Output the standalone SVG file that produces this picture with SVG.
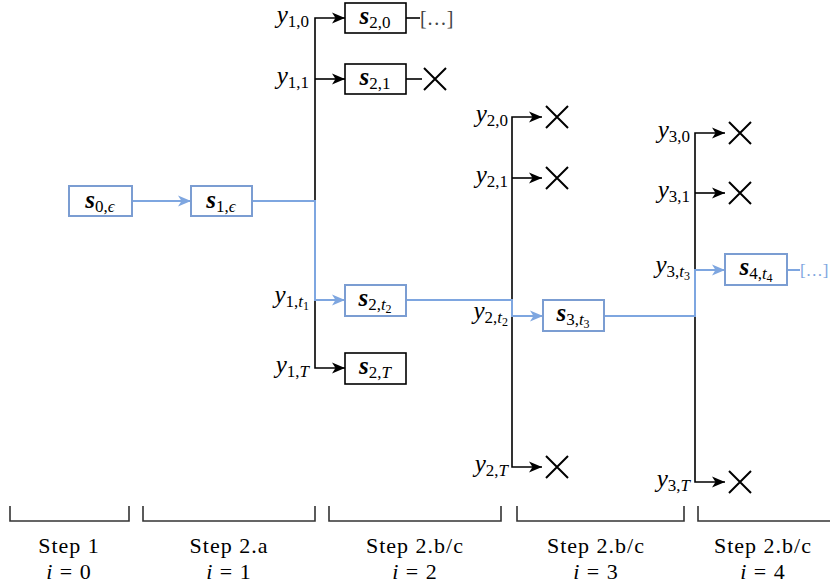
<svg xmlns="http://www.w3.org/2000/svg" width="830" height="588" viewBox="0 0 830 588" font-family="'Times New Roman', 'Liberation Serif', 'DejaVu Serif', 'Noto Serif', serif">
<defs>
<marker id="ak" markerUnits="userSpaceOnUse" markerWidth="14" markerHeight="12" refX="13" refY="6" orient="auto"><path d="M0,0.5 L13,6 L0,11.5 L3.5,6 Z" fill="#000"/></marker>
<marker id="ab" markerUnits="userSpaceOnUse" markerWidth="14" markerHeight="12" refX="13" refY="6" orient="auto"><path d="M0,0.5 L13,6 L0,11.5 L3.5,6 Z" fill="#7EA6E0"/></marker>
<style>
text{font-family:'Times New Roman','Liberation Serif','DejaVu Serif','Noto Serif',serif;fill:#000}
.m{font-size:25px}
.i{font-style:italic}
.b{font-style:italic;font-weight:bold}
.sub{font-size:17px}
.sub2{font-size:12px}
.st{font-size:22px;letter-spacing:1px}
.bx{fill:#fff;stroke:#000;stroke-width:1.6}
.bb{fill:#fff;stroke:#7B9DD2;stroke-width:2}
.lk{fill:none;stroke:#000;stroke-width:1.6}
.lb{fill:none;stroke:#7EA6E0;stroke-width:2}
.x{stroke:#000;stroke-width:2}
.br{fill:none;stroke:#333;stroke-width:1.6}
</style>
</defs>
<g id="connectors">
<path class="lb" d="M132,201 H191" marker-end="url(#ab)"/>
<path class="lk" d="M315,201 V18 H345" marker-end="url(#ak)"/>
<path class="lk" d="M315,79 H345" marker-end="url(#ak)"/>
<path class="lk" d="M315,300 V368 H345" marker-end="url(#ak)"/>
<path class="lb" d="M252,201 H315 V300 H345" marker-end="url(#ab)"/>
<path class="lk" d="M512,300 V117 H542" marker-end="url(#ak)"/>
<path class="lk" d="M512,178 H542" marker-end="url(#ak)"/>
<path class="lk" d="M512,316 V467 H542" marker-end="url(#ak)"/>
<path class="lb" d="M406,300 H512 V316 H543" marker-end="url(#ab)"/>
<path class="lk" d="M695,270 V133 H725" marker-end="url(#ak)"/>
<path class="lk" d="M695,193 H725" marker-end="url(#ak)"/>
<path class="lk" d="M695,316 V482 H725" marker-end="url(#ak)"/>
<path class="lb" d="M604,316 H695 V270 H725" marker-end="url(#ab)"/>
<path class="lk" d="M406,18 H420"/>
<path class="lk" d="M406,79 H422"/>
<path class="lb" d="M787,270 H800"/>
</g>
<g id="s0e"><rect class="bb" x="69" y="186" width="63" height="30"/><text class="m" x="100" y="208" text-anchor="middle"><tspan class="b">s</tspan><tspan class="sub" dy="4">0,</tspan><tspan class="sub i">ϵ</tspan></text></g>
<g id="s1e"><rect class="bb" x="191" y="186" width="61" height="30"/><text class="m" x="221" y="208" text-anchor="middle"><tspan class="b">s</tspan><tspan class="sub" dy="4">1,</tspan><tspan class="sub i">ϵ</tspan></text></g>
<g id="s20"><rect class="bx" x="345" y="3" width="61" height="30"/><text class="m" x="375" y="24" text-anchor="middle"><tspan class="b">s</tspan><tspan class="sub" dy="4">2,0</tspan></text></g>
<g id="s21"><rect class="bx" x="345" y="64" width="61" height="30"/><text class="m" x="375" y="85" text-anchor="middle"><tspan class="b">s</tspan><tspan class="sub" dy="4">2,1</tspan></text></g>
<g id="s2t2"><rect class="bb" x="345" y="285" width="61" height="31"/><text class="m" x="375" y="306" text-anchor="middle"><tspan class="b">s</tspan><tspan class="sub" dy="4">2,</tspan><tspan class="sub i">t</tspan><tspan class="sub2" dy="3">2</tspan></text></g>
<g id="s2T"><rect class="bx" x="345" y="353" width="61" height="31"/><text class="m" x="375" y="374" text-anchor="middle"><tspan class="b">s</tspan><tspan class="sub" dy="4">2,</tspan><tspan class="sub i">T</tspan></text></g>
<g id="s3t3"><rect class="bb" x="543" y="300" width="61" height="31"/><text class="m" x="573" y="321" text-anchor="middle"><tspan class="b">s</tspan><tspan class="sub" dy="4">3,</tspan><tspan class="sub i">t</tspan><tspan class="sub2" dy="3">3</tspan></text></g>
<g id="s4t4"><rect class="bb" x="725" y="254" width="62" height="31"/><text class="m" x="756" y="275" text-anchor="middle"><tspan class="b">s</tspan><tspan class="sub" dy="4">4,</tspan><tspan class="sub i">t</tspan><tspan class="sub2" dy="3">4</tspan></text></g>
<g id="more1"><text x="420" y="25" style="font-size:20px;fill:#444">[…]</text></g>
<g id="more2"><text x="800" y="276" style="font-size:17px;fill:#7EA6E0">[…]</text></g>
<g id="cross21"><path class="x" d="M424,68 L446,90 M446,68 L424,90"/></g>
<g id="cross20"><path class="x" d="M546,106 L568,128 M568,106 L546,128"/></g>
<g id="cross21b"><path class="x" d="M546,167 L568,189 M568,167 L546,189"/></g>
<g id="cross2T"><path class="x" d="M546,456 L568,478 M568,456 L546,478"/></g>
<g id="cross30"><path class="x" d="M729,122 L751,144 M751,122 L729,144"/></g>
<g id="cross31"><path class="x" d="M729,182 L751,204 M751,182 L729,204"/></g>
<g id="cross3T"><path class="x" d="M729,471 L751,493 M751,471 L729,493"/></g>
<g id="labels">
<text class="m" x="309" y="23" text-anchor="end"><tspan class="i">y</tspan><tspan class="sub" dy="4">1,0</tspan></text>
<text class="m" x="309" y="84" text-anchor="end"><tspan class="i">y</tspan><tspan class="sub" dy="4">1,1</tspan></text>
<text class="m" x="309" y="303" text-anchor="end"><tspan class="i">y</tspan><tspan class="sub" dy="4">1,</tspan><tspan class="sub i">t</tspan><tspan class="sub2" dy="3">1</tspan></text>
<text class="m" x="309" y="373" text-anchor="end"><tspan class="i">y</tspan><tspan class="sub" dy="4">1,</tspan><tspan class="sub i">T</tspan></text>
<text class="m" x="508" y="122" text-anchor="end"><tspan class="i">y</tspan><tspan class="sub" dy="4">2,0</tspan></text>
<text class="m" x="508" y="183" text-anchor="end"><tspan class="i">y</tspan><tspan class="sub" dy="4">2,1</tspan></text>
<text class="m" x="508" y="319" text-anchor="end"><tspan class="i">y</tspan><tspan class="sub" dy="4">2,</tspan><tspan class="sub i">t</tspan><tspan class="sub2" dy="3">2</tspan></text>
<text class="m" x="508" y="472" text-anchor="end"><tspan class="i">y</tspan><tspan class="sub" dy="4">2,</tspan><tspan class="sub i">T</tspan></text>
<text class="m" x="690" y="138" text-anchor="end"><tspan class="i">y</tspan><tspan class="sub" dy="4">3,0</tspan></text>
<text class="m" x="690" y="198" text-anchor="end"><tspan class="i">y</tspan><tspan class="sub" dy="4">3,1</tspan></text>
<text class="m" x="690" y="273" text-anchor="end"><tspan class="i">y</tspan><tspan class="sub" dy="4">3,</tspan><tspan class="sub i">t</tspan><tspan class="sub2" dy="3">3</tspan></text>
<text class="m" x="690" y="487" text-anchor="end"><tspan class="i">y</tspan><tspan class="sub" dy="4">3,</tspan><tspan class="sub i">T</tspan></text>
</g>
<g id="steps">
<path class="br" d="M10,506 V521 H129 V506"/>
<path class="br" d="M143,506 V521 H315 V506"/>
<path class="br" d="M329,506 V521 H501 V506"/>
<path class="br" d="M517,506 V521 H684 V506"/>
<path class="br" d="M698,506 V521 H840"/>
<text class="st" x="69" y="553" text-anchor="middle">Step 1</text>
<text class="st" x="69" y="579" text-anchor="middle"><tspan class="i">i</tspan> = 0</text>
<text class="st" x="229" y="553" text-anchor="middle">Step 2.a</text>
<text class="st" x="229" y="579" text-anchor="middle"><tspan class="i">i</tspan> = 1</text>
<text class="st" x="415" y="553" text-anchor="middle">Step 2.b/c</text>
<text class="st" x="415" y="579" text-anchor="middle"><tspan class="i">i</tspan> = 2</text>
<text class="st" x="596" y="553" text-anchor="middle">Step 2.b/c</text>
<text class="st" x="596" y="579" text-anchor="middle"><tspan class="i">i</tspan> = 3</text>
<text class="st" x="763" y="553" text-anchor="middle">Step 2.b/c</text>
<text class="st" x="763" y="579" text-anchor="middle"><tspan class="i">i</tspan> = 4</text>
</g>
</svg>
